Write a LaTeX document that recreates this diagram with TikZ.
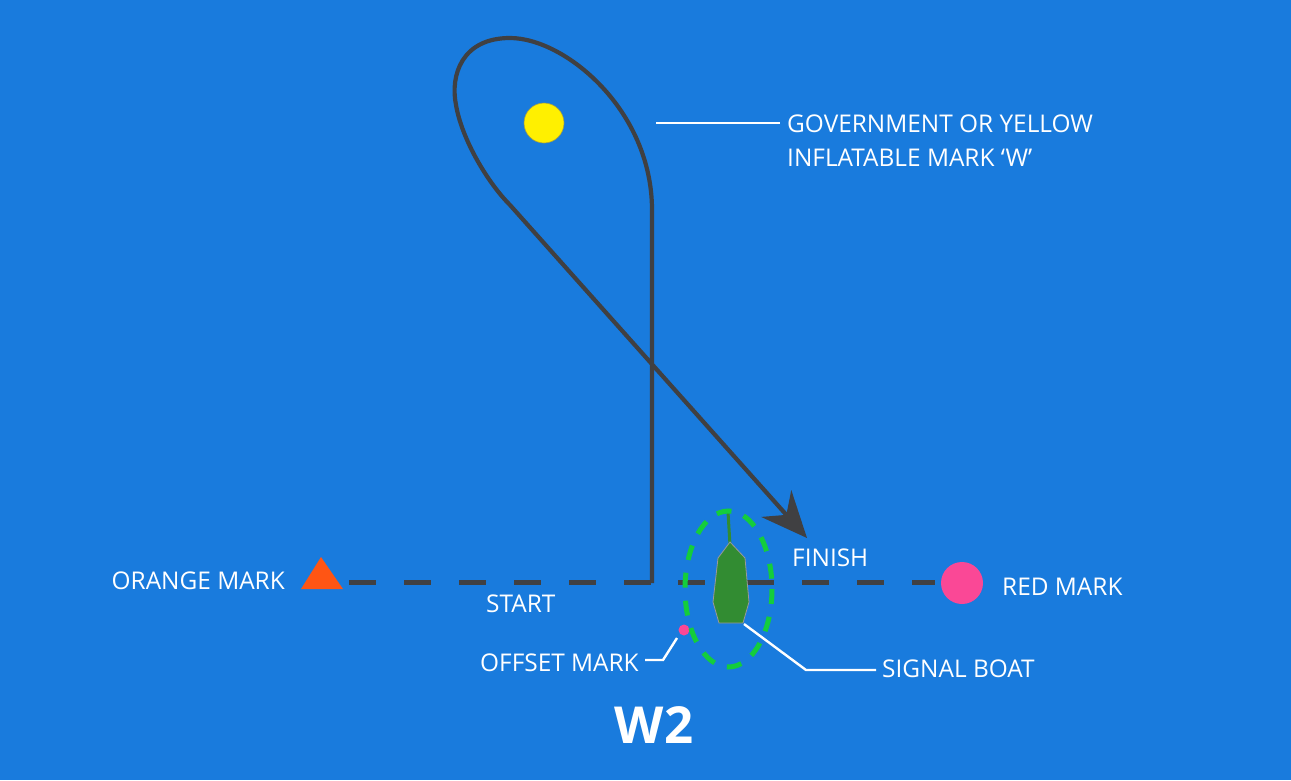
\documentclass[tikz,border=0pt]{standalone}
\usepackage{fontspec}
\setmainfont{Open Sans}
\usetikzlibrary{arrows.meta}
\definecolor{sea}{RGB}{25,123,221}
\definecolor{course}{RGB}{64,64,66}
\definecolor{orangemk}{RGB}{255,85,20}
\definecolor{redmk}{RGB}{250,72,150}
\definecolor{yellowmk}{RGB}{255,240,0}
\definecolor{boatgreen}{RGB}{50,140,50}
\definecolor{ringgreen}{RGB}{20,205,60}
\tikzset{
  lbl/.style={text=white, inner sep=0pt, font=\fontsize{24.4}{27}\selectfont},
  leader/.style={draw=white, line width=2.4pt},
  courseline/.style={draw=course, line width=4.2pt},
  startline/.style={draw=course, line width=5pt, dash pattern=on 27pt off 28pt},
  mark/.style={circle, inner sep=0pt, minimum size=#1},
}
\begin{document}
\begin{tikzpicture}[x=1pt,y=-1pt]
\useasboundingbox (0,0) rectangle (1291,780);
\fill[sea] (0,0) rectangle (1291,780);

% start / finish line
\draw[startline] (349,582) -- (652,582);
\draw[startline] (678,582) -- (706,582);
\draw[startline] (747,582) -- (935,582);

% course
\draw[courseline, -{Stealth[length=46pt,width=40pt,inset=15pt]}]
  (652,583) -- (652,210)
  .. controls (652,110) and (565,38) .. (510,38)
  .. controls (462,38) and (450,75) .. (456,105)
  .. controls (462,140) and (488,183) .. (510,205)
  -- (807,538);

% marks
\node[mark=40pt, fill=yellowmk, draw=yellow!60!black, line width=0.6pt] (wmark) at (544,123) {};
\node[mark=42pt, fill=redmk] (redm) at (962,583) {};
\fill[orangemk] (301,589) -- (321,557) -- (343,589) -- cycle;
\coordinate (orangem) at (321,577);
\node[mark=11pt, fill=redmk] (offset) at (684,630) {};

% signal boat
\draw[boatgreen, line width=3pt] (730,545) -- (728,512);
\filldraw[fill=boatgreen, draw=gray!80, line width=0.8pt]
  (730,542) -- (745,558) -- (749,602) -- (743,623) -- (719,623) -- (713,602) -- (718,558) -- cycle;
\coordinate (boat) at (744,624);
\draw[ringgreen, line width=5pt, dash pattern=on 15pt off 13pt] (728.5,589) ellipse [x radius=43.5, y radius=78];

% labels
\node[lbl, anchor=base west] (gov) at (787,132) {GOVERNMENT OR YELLOW};
\node[lbl, anchor=base west] (infl) at (787,166) {INFLATABLE MARK ‘W’};
\node[lbl, anchor=base west] (finish) at (792,566) {FINISH};
\node[lbl, anchor=base east] (orangelbl) at (285,589) {ORANGE MARK};
\node[lbl, anchor=base west] (start) at (486,612) {START};
\node[lbl, anchor=base west] (redlbl) at (1002,595) {RED MARK};
\node[lbl, anchor=base west] (offlbl) at (480,671) {OFFSET MARK};
\node[lbl, anchor=base west] (siglbl) at (882,677) {SIGNAL BOAT};
\node[text=white, inner sep=0pt, anchor=base, font=\fontsize{51}{55}\selectfont\bfseries] (title) at (654,743) {W2};

% leaders
\coordinate (govend) at (656,123);
\draw[leader] (govend) -- (780,123);
\draw[leader] (645,660) -- (663,660) -- (677,638);
\draw[leader] (boat) -- (806,670) -- (876,670);
\end{tikzpicture}
\end{document}
